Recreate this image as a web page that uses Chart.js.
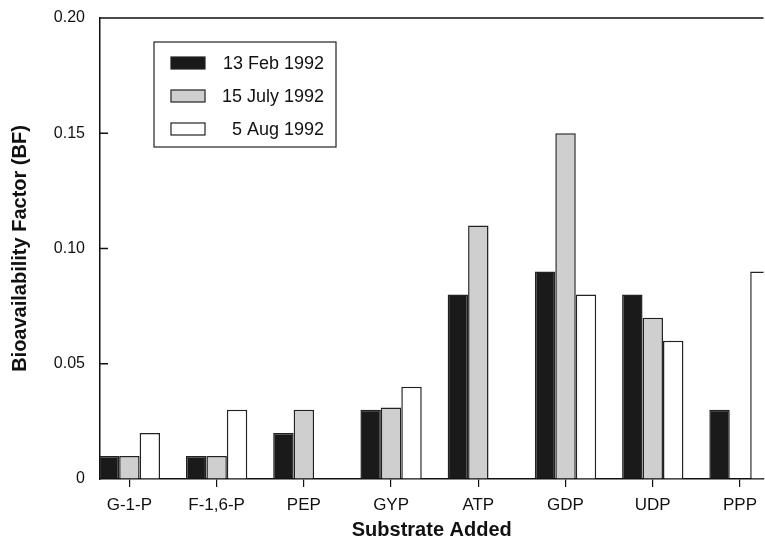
<!DOCTYPE html>
<html>
<head>
<meta charset="utf-8">
<script src="https://cdn.jsdelivr.net/npm/chart.js@4/dist/chart.umd.min.js"></script>
<style>
  html, body { margin: 0; padding: 0; background: #fff; }
  #wrap { width: 765px; height: 543px; }
</style>
</head>
<body>
<div id="wrap"><canvas id="bf-chart" width="765" height="543"></canvas></div>
<script>
const substrates = ['G-1-P', 'F-1,6-P', 'PEP', 'GYP', 'ATP', 'GDP', 'UDP', 'PPP'];
const seriesLabels = ['13 Feb 1992', '15 July 1992', '5 Aug 1992'];
const feb1992 = [0.01, 0.01, 0.02, 0.03, 0.08, 0.09, 0.08, 0.03];
const july1992 = [0.01, 0.01, 0.03, 0.031, 0.11, 0.15, 0.07, 0];
const aug1992 = [0.02, 0.03, 0, 0.04, 0, 0.08, 0.06, 0.09];
const yTicks = [0, 0.05, 0.10, 0.15, 0.20];

const FONT = '"Liberation Sans", Arial, Helvetica, sans-serif';
const toPoints = vals => vals.map((v, i) => ({ x: i, y: v }));

// boxed legend inside the plot, text right aligned like the original
const boxLegend = {
    id: 'boxLegend',
    afterDraw(chart) {
        const { ctx, chartArea } = chart;
        const x0 = chartArea.left + 54, y0 = chartArea.top + 24;
        const w = 182, h = 105;
        ctx.save();
        ctx.strokeStyle = '#222';
        ctx.lineWidth = 1.2;
        ctx.strokeRect(x0, y0, w, h);
        ctx.font = '18px ' + FONT;
        ctx.textAlign = 'right';
        ctx.textBaseline = 'middle';
        chart.data.datasets.forEach((ds, i) => {
            const cy = y0 + 21 + i * 33;
            ctx.fillStyle = ds.backgroundColor;
            ctx.fillRect(x0 + 17, cy - 6, 34, 12);
            ctx.lineWidth = 1.2;
            ctx.strokeStyle = '#222';
            ctx.strokeRect(x0 + 17, cy - 6, 34, 12);
            ctx.fillStyle = '#111';
            ctx.fillText(ds.label, x0 + 170, cy + 1);
        });
        ctx.restore();
    }
};

// inward y ticks and the top frame line
const frame = {
    id: 'frame',
    afterDraw(chart) {
        const { ctx, chartArea, scales } = chart;
        ctx.save();
        ctx.strokeStyle = '#111';
        ctx.lineWidth = 1.5;
        ctx.beginPath();
        ctx.moveTo(chartArea.left, chartArea.top);
        ctx.lineTo(chartArea.right, chartArea.top);
        yTicks.slice(1, -1).forEach(v => {
            const py = scales.y.getPixelForValue(v);
            ctx.moveTo(chartArea.left, py);
            ctx.lineTo(chartArea.left + 8, py);
        });
        ctx.stroke();
        ctx.restore();
    }
};

new Chart(document.getElementById('bf-chart'), {
    type: 'bar',
    data: {
        datasets: [
            { label: seriesLabels[0], data: toPoints(feb1992), backgroundColor: '#1a1a1a' },
            { label: seriesLabels[1], data: toPoints(july1992), backgroundColor: '#cfcfcf' },
            { label: seriesLabels[2], data: toPoints(aug1992), backgroundColor: '#ffffff' }
        ]
    },
    options: {
        responsive: false,
        animation: false,
        layout: { padding: { top: 18, right: 0, left: 0, bottom: 0 } },
        datasets: {
            bar: {
                borderColor: '#222',
                borderWidth: 1.5,
                categoryPercentage: 0.703,
                barPercentage: 1.0
            }
        },
        plugins: {
            legend: { display: false },
            tooltip: { enabled: false }
        },
        scales: {
            x: {
                type: 'linear',
                offset: false,
                min: -0.337,
                max: 7.27,
                afterFit: s => { s.height = 64; },
                afterBuildTicks: s => { s.ticks = substrates.map((_, i) => ({ value: i })); },
                ticks: {
                    callback: v => substrates[v],
                    color: '#111',
                    padding: 8,
                    font: { family: FONT, size: 17 }
                },
                grid: { offset: false, drawOnChartArea: false, tickLength: 8, color: '#111', lineWidth: 1.2 },
                border: { color: '#111', width: 1.5 },
                title: {
                    display: true,
                    text: 'Substrate Added',
                    color: '#111',
                    padding: { top: 0, bottom: 1 },
                    font: { family: FONT, size: 20, weight: 'bold' }
                }
            },
            y: {
                min: 0,
                max: 0.2,
                afterFit: s => {
                    s.width = 100;
                    // tick padding would otherwise push the plot top down
                    s.paddingTop = 0;
                    s.paddingBottom = 0;
                },
                afterBuildTicks: s => { s.ticks = yTicks.map(v => ({ value: v })); },
                ticks: {
                    callback: v => (v === 0 ? '0' : v.toFixed(2)),
                    color: '#111',
                    padding: 15,
                    font: { family: FONT, size: 16 }
                },
                grid: { drawOnChartArea: false, drawTicks: false },
                border: { color: '#111', width: 1.5 },
                title: {
                    display: true,
                    text: 'Bioavailability Factor (BF)',
                    color: '#111',
                    padding: { top: 8, bottom: 0 },
                    font: { family: FONT, size: 20, weight: 'bold' }
                }
            }
        }
    },
    plugins: [boxLegend, frame]
});
</script>
</body>
</html>
